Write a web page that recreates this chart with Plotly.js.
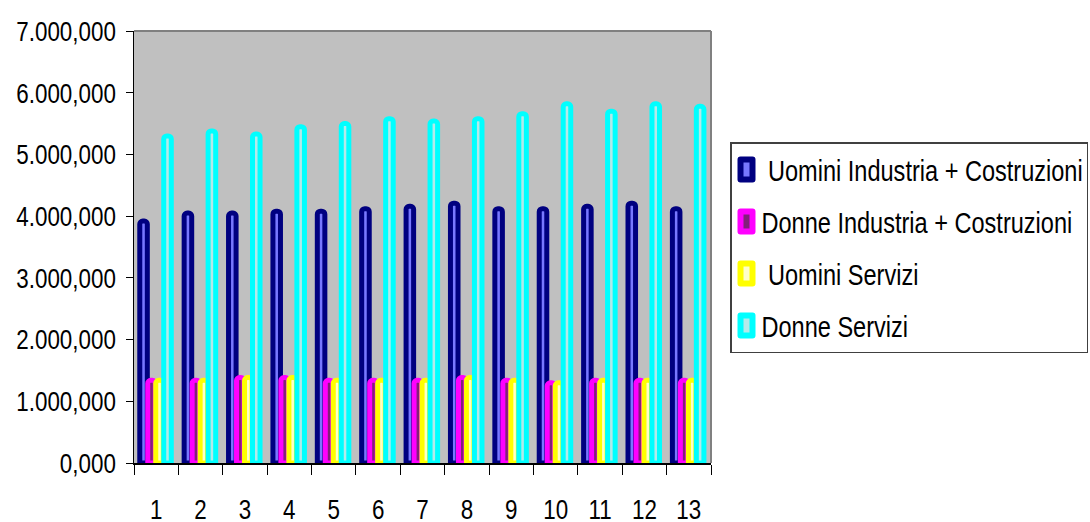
<!DOCTYPE html>
<html>
<head>
<meta charset="utf-8">
<script src="https://cdn.plot.ly/plotly-3.0.1.min.js"></script>
<style>
  html, body { margin: 0; padding: 0; background: #ffffff; }
  #chart { width: 1090px; height: 522px; }
</style>
</head>
<body>
<div id="chart"></div>
<script>
// Occupati per settore e sesso (migliaia), 13 periodi
const periodi = ['1', '2', '3', '4', '5', '6', '7', '8', '9', '10', '11', '12', '13'];

const uominiIndustria = [3920, 4050, 4050, 4080, 4080, 4120, 4160, 4210, 4120, 4120, 4160, 4210, 4120];
const donneIndustria  = [1340, 1340, 1385, 1385, 1340, 1340, 1340, 1385, 1340, 1300, 1340, 1340, 1340];
const uominiServizi   = [1340, 1340, 1385, 1385, 1340, 1340, 1340, 1385, 1340, 1300, 1340, 1340, 1340];
const donneServizi    = [5300, 5380, 5330, 5450, 5500, 5580, 5540, 5580, 5660, 5820, 5700, 5820, 5780];

const nomiSerie = [
  '\u00a0Uomini Industria + Costruzioni',
  'Donne Industria + Costruzioni',
  '\u00a0Uomini Servizi',
  'Donne Servizi'
];

const FONT = '"Liberation Sans", Arial, sans-serif';

// bordo spesso col colore della serie, riempimento chiaro all'interno
const stili = [
  { line: '#000080', fill: '#7878ff', offset: -0.37 },
  { line: '#ff00ff', fill: '#82207a', offset: -0.19 },
  { line: '#ffff00', fill: '#ffffc8', offset: -0.01 },
  { line: '#00ffff', fill: '#b4eaea', offset: 0.17 }
];

const serie = [uominiIndustria, donneIndustria, uominiServizi, donneServizi];

const traces = serie.map((valori, i) => ({
  type: 'bar',
  name: nomiSerie[i],
  legendgroup: 'g' + i,
  x: periodi,
  y: valori,
  width: 0.17,
  offset: stili[i].offset,
  marker: {
    color: stili[i].fill,
    line: { color: stili[i].line, width: 5 },
    cornerradius: 3
  },
  hoverinfo: 'x+y+name'
}));

const layout = {
  width: 1090,
  height: 522,
  margin: { l: 134, r: 379, t: 31, b: 59 },
  paper_bgcolor: '#ffffff',
  plot_bgcolor: '#c0c0c0',
  separators: ',.',
  barmode: 'overlay',
  font: { family: FONT, size: 28, color: '#000000' },
  showlegend: true,
  legend: {
    xref: 'container', yref: 'container',
    x: 730 / 1090, y: 1 - 142 / 522,
    xanchor: 'left', yanchor: 'top',
    bgcolor: '#ffffff',
    bordercolor: '#404040',
    borderwidth: 1.5,
    font: { family: FONT, size: 30, color: '#000000' },
    traceorder: 'grouped',
    tracegroupgap: 10
  },
  xaxis: {
    type: 'category',
    range: [-0.5, 12.5],
    showgrid: false,
    zeroline: false,
    showline: true,
    linecolor: '#000000',
    linewidth: 1.5,
    ticks: 'outside',
    tickson: 'boundaries',
    ticklen: 10,
    tickcolor: '#000000',
    tickwidth: 1,
    ticklabelstandoff: 21,
    tickfont: { family: FONT, size: 28, color: '#000000' },
    fixedrange: true
  },
  yaxis: {
    range: [0, 7000],
    dtick: 1000,
    tick0: 0,
    tickformat: ',.3f',
    showgrid: false,
    zeroline: false,
    showline: true,
    linecolor: '#000000',
    linewidth: 1.5,
    ticks: 'outside',
    ticklen: 7,
    tickcolor: '#000000',
    tickwidth: 1,
    ticklabelstandoff: 4,
    tickfont: { family: FONT, size: 28, color: '#000000' },
    fixedrange: true
  },
  shapes: [
    // bordo superiore e destro dell'area del grafico
    { type: 'line', xref: 'paper', yref: 'paper', x0: 0, x1: 1, y0: 1, y1: 1,
      line: { color: '#808080', width: 2 }, layer: 'above' },
    { type: 'line', xref: 'paper', yref: 'paper', x0: 1, x1: 1, y0: 0, y1: 1,
      line: { color: '#808080', width: 2 }, layer: 'above' }
  ]
};

// restringe orizzontalmente un testo attorno al suo punto di ancoraggio
function condensa(selettore, k, dx) {
  document.querySelectorAll(selettore).forEach(t => {
    const x = parseFloat(t.getAttribute('x')) || 0;
    const prima = t.getAttribute('transform') || '';
    t.setAttribute('transform',
      `${prima} translate(${x + dx},0) scale(${k},1) translate(${-x},0)`);
  });
}

Plotly.newPlot('chart', traces, layout, { displayModeBar: false, staticPlot: true })
  .then(() => {
    condensa('#chart .xtick text', 0.8, 0);
    condensa('#chart .ytick text', 0.8, 0);
    condensa('#chart .legend text.legendtext', 0.785, -10);

    // simboli della legenda: rettangoli alti con bordo spesso
    document.querySelectorAll('#chart .legend .legendpoints path').forEach(p => {
      p.setAttribute('d', 'M6,10H-6V-10H6Z');
      const prima = p.getAttribute('transform') || '';
      p.setAttribute('transform', prima + ' translate(-5,0)');
      p.style.strokeWidth = '6px';
      p.style.strokeLinejoin = 'round';
    });

    // cornice della legenda fino al bordo destro
    const bg = document.querySelector('#chart .legend rect.bg');
    if (bg) bg.setAttribute('width', 1088 - 730 - 1.5);
  });
</script>
</body>
</html>
